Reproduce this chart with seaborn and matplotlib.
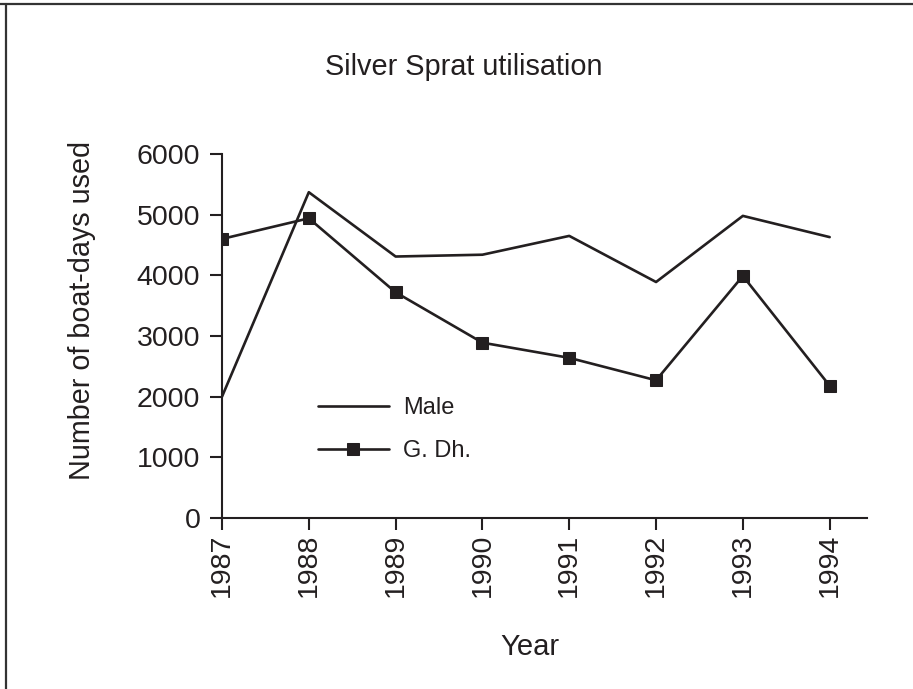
import numpy as np
import pandas as pd
import seaborn as sns
import matplotlib.pyplot as plt
from matplotlib.lines import Line2D

years = [1987, 1988, 1989, 1990, 1991, 1992, 1993, 1994]
male = [2000, 5370, 4310, 4340, 4650, 3890, 4980, 4630]
gdh = [4600, 4940, 3720, 2890, 2640, 2270, 3990, 2180]

ink = '#231f20'

sns.set_theme(style='ticks')
plt.rcParams['font.family'] = ['Liberation Sans', 'DejaVu Sans']

df = pd.DataFrame({'Year': years, 'Male': male, 'G. Dh.': gdh})

fig = plt.figure(figsize=(9.13, 6.89), dpi=100)
ax = fig.add_axes([222 / 913, 1 - 518 / 689, (867 - 222) / 913, (518 - 154) / 689])

sns.lineplot(data=df, x='Year', y='Male', ax=ax, color=ink, lw=1.9, label='Male')
sns.lineplot(data=df, x='Year', y='G. Dh.', ax=ax, color=ink, lw=1.9, marker='s',
             markersize=9, markeredgecolor=ink, markerfacecolor=ink, label='G. Dh.')

ax.set_xlim(1987, 1994.43)
ax.set_ylim(0, 6000)
ax.set_xticks(years)
ax.set_xticklabels([str(y) for y in years], rotation=90)
ax.set_yticks(range(0, 6001, 1000))
ax.tick_params(axis='both', length=8.6, width=1.5, color=ink, labelcolor=ink, labelsize=20.5)
ax.tick_params(axis='y', pad=7)
ax.tick_params(axis='x', pad=2.5)
for s in ['left', 'bottom']:
    ax.spines[s].set_linewidth(1.5)
    ax.spines[s].set_color(ink)
sns.despine(ax=ax)

ax.set_ylabel('Number of boat-days used', fontsize=20.7, color=ink)
ax.yaxis.set_label_coords(-0.195, 0.57)
ax.set_xlabel('Year', fontsize=21, color=ink)
ax.xaxis.set_label_coords(0.477, -0.317)
ax.set_title('Silver Sprat utilisation', fontsize=20.8, color=ink, x=0.375, y=1.2176, pad=0)

ax.legend(loc='center left', bbox_to_anchor=(318 / 913, 1 - 429.5 / 689),
          bbox_transform=fig.transFigure, frameon=False, borderpad=0,
          borderaxespad=0, handlelength=3.0, handletextpad=0.62,
          labelspacing=0.9, fontsize=17, labelcolor=ink)

# frame around the figure (top and left edges only)
fig.add_artist(Line2D([0, 1], [1 - 4 / 689, 1 - 4 / 689], transform=fig.transFigure, color='#333333', lw=1.6))
fig.add_artist(Line2D([6 / 913, 6 / 913], [0, 1 - 4 / 689], transform=fig.transFigure, color='#333333', lw=1.6))

fig.savefig('out.png', dpi=100)
